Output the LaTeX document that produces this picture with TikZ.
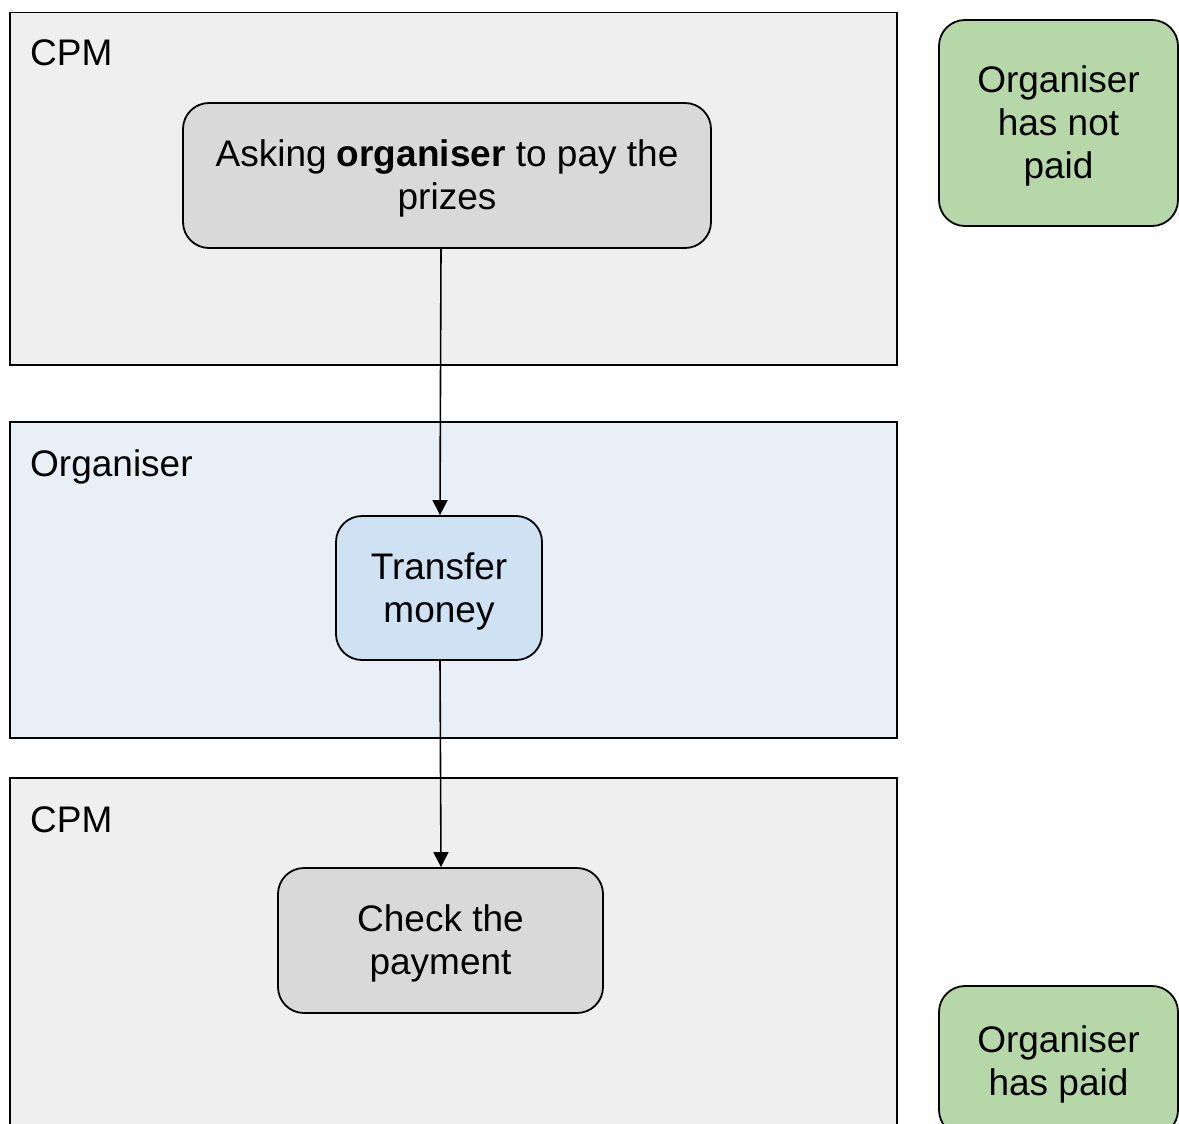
\documentclass[tikz,border=0pt]{standalone}
\usepackage{fontspec}
\setmainfont{Liberation Sans}
\usetikzlibrary{arrows.meta}
\definecolor{lanegray}{HTML}{EFEFEF}
\definecolor{laneblue}{HTML}{E8EFF7}
\definecolor{boxgray}{HTML}{D9D9D9}
\definecolor{boxblue}{HTML}{CFE2F3}
\definecolor{boxgreen}{HTML}{B6D7A8}
\newcommand{\lowtext}[1]{\raisebox{-4pt}[\height][\depth]{\begin{tabular}{@{}c@{}}#1\end{tabular}}}
\tikzset{
  lane/.style={draw=black, line width=1.5pt, rectangle, inner sep=0pt, anchor=north west},
  task/.style={draw=black, line width=1.8pt, rounded corners=26pt, inner sep=0pt, align=center,
    font=\fontsize{37}{43}\selectfont},
  lanelabel/.style={anchor=base west, inner sep=0pt, font=\fontsize{37}{43}\selectfont},
  flow/.style={line width=1.6pt, -{Triangle[width=15pt,length=15pt]}}
}
\begin{document}
\begin{tikzpicture}[x=1pt,y=-1pt]
\clip (0,0) rectangle (1179,1124);
\fill[white] (0,0) rectangle (1179,1124);
% lanes
\node[lane, fill=lanegray, minimum width=887pt, minimum height=352pt] (lane1) at (9,12) {};
\node[lane, fill=laneblue, minimum width=887pt, minimum height=316pt] (lane2) at (9,421) {};
\node[lane, fill=lanegray, minimum width=887pt, minimum height=370pt] (lane3) at (9,777) {};
\node[lanelabel] (l1) at (30,66) {CPM};
\node[lanelabel] (l2) at (30,476) {Organiser};
\node[lanelabel] (l3) at (30,832) {CPM};
% tasks
\node[task, fill=boxgray, minimum width=528pt, minimum height=145pt] (ask) at (447,175.5)
  {\lowtext{Asking \textbf{organiser} to pay the\\prizes}};
\node[task, fill=boxblue, minimum width=206pt, minimum height=144pt] (transfer) at (439,588)
  {\lowtext{Transfer\\money}};
\node[task, fill=boxgray, minimum width=325pt, minimum height=145pt] (check) at (440.5,940.5)
  {\lowtext{Check the\\payment}};
% states
\node[task, fill=boxgreen, minimum width=239pt, minimum height=206pt] (notpaid) at (1058.5,123)
  {\lowtext{Organiser\\has not\\paid}};
\node[task, fill=boxgreen, minimum width=239pt, minimum height=150pt] (paid) at (1058.5,1061)
  {\lowtext{Organiser\\has paid}};
% flows
\draw[flow] (ask.south -| 441,0) -- (transfer.north -| 440,0);
\draw[flow] (transfer.south -| 440,0) -- (check.north -| 441,0);
\end{tikzpicture}
\end{document}
